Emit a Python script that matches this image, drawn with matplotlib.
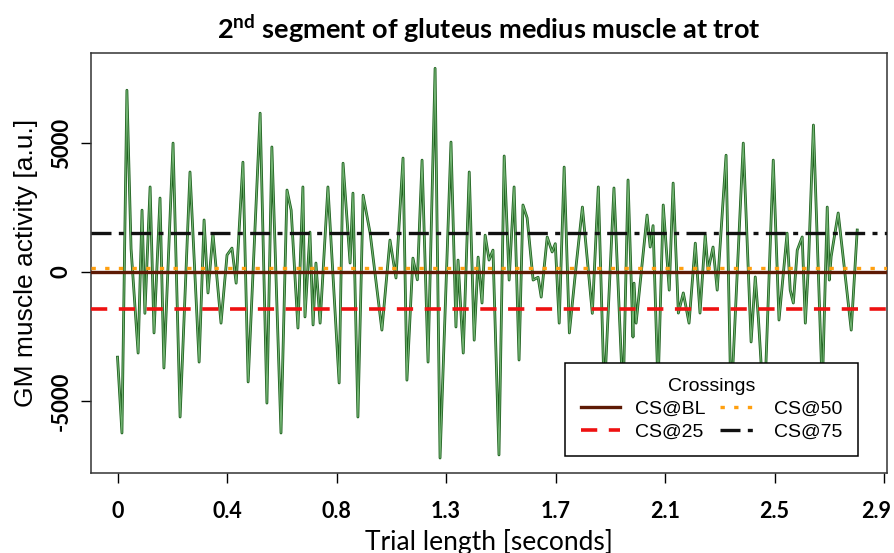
import numpy as np
import matplotlib
matplotlib.use("Agg")
import matplotlib.pyplot as plt
import matplotlib.transforms as mtransforms
from matplotlib.lines import Line2D

plt.rcParams["mathtext.fontset"] = "custom"
plt.rcParams["mathtext.rm"] = "Lato"
plt.rcParams["mathtext.bf"] = "Lato:bold"

# ---- EMG trace (seconds, a.u.) ----
t = [0.00, 0.017, 0.036, 0.052, 0.079, 0.094, 0.105, 0.125, 0.140, 0.163,
     0.178, 0.213, 0.240, 0.278, 0.313, 0.332, 0.347, 0.366, 0.397, 0.420,
     0.439, 0.455, 0.481, 0.501, 0.547, 0.573, 0.592, 0.627, 0.650, 0.666,
     0.692, 0.711, 0.719, 0.738, 0.750, 0.761, 0.777, 0.807, 0.850, 0.865,
     0.892, 0.903, 0.922, 0.942, 0.969, 1.014, 1.045, 1.068, 1.095, 1.110,
     1.133, 1.150, 1.168, 1.191, 1.218, 1.237, 1.279, 1.298, 1.306, 1.326,
     1.349, 1.368, 1.383, 1.398, 1.410, 1.425, 1.440, 1.463, 1.483, 1.502,
     1.521, 1.540, 1.555, 1.571, 1.594, 1.613, 1.625, 1.648, 1.667, 1.679,
     1.694, 1.713, 1.733, 1.760, 1.783, 1.821, 1.844, 1.867, 1.904, 1.939,
     1.958, 1.977, 1.981, 1.989, 2.031, 2.043, 2.054, 2.073, 2.093, 2.116,
     2.131, 2.151, 2.170, 2.192, 2.216, 2.234, 2.254, 2.265, 2.284, 2.300,
     2.334, 2.353, 2.400, 2.430, 2.446, 2.458, 2.480, 2.515, 2.537, 2.568,
     2.580, 2.592, 2.607, 2.626, 2.638, 2.650, 2.669, 2.703, 2.722, 2.730,
     2.737, 2.764, 2.783, 2.814, 2.837]
gm = [-3300, -6240, 7050, 900, -3140, 2400, -1600, 3300, -2360, 2870,
      -3720, 5000, -5620, 3880, -3490, 2020, -810, 1500, -1980, 660,
      930, -430, 4260, -4260, 6160, -5080, 4850, -6240, 3180, 2400,
      -2170, 3300, -1740, 1550, -2050, 350, -1980, 3300, -4300, 4220,
      350, 3060, -5620, 2980, 1500, -2250, 1240, -230, 4420, -4190,
      540, -300, 4340, -3490, 7900, -7210, 5040, -2130, 465, -3140,
      3880, -2640, 580, -1200, 1430, 465, 850, -7090, 4500, -310,
      3300, -3410, 2600, 2100, -310, -200, -970, 1360, 780, 1100,
      -1980, 4070, -2360, 350, 2520, -1600, 3300, -4800, 3260, -5000,
      3570, -2520, -430, -1980, 2210, 970, 1800, -4500, 2600, -700,
      3450, -1590, -810, -1980, 1120, -1590, 1430, 50, 970, -700,
      4530, -5200, 5000, -2710, -190, -1800, -5500, 4340, -1860, 1510,
      -700, -1200, 850, 1360, -1980, 300, 5700, -4600, 2520, -310,
      600, 2290, 580, -2250, 1630]

# ---- crossing thresholds ----
cs_labels = ["CS@BL", "CS@25", "CS@50", "CS@75"]
cs_levels = [0, -1430, 170, 1510]

x_ticks = [0, 0.42, 0.84, 1.26, 1.68, 2.10, 2.52, 2.94]
x_ticklabels = ["0", "0.4", "0.8", "1.3", "1.7", "2.1", "2.5", "2.9"]
y_ticks = [-5000, 0, 5000]

styles = {
    "CS@BL": dict(color="#5e1a05", lw=2.4, ls="-"),
    "CS@25": dict(color="#ee1111", lw=2.6, ls=(0, (4.5, 3.2))),
    "CS@50": dict(color="#ffa010", lw=2.4, ls=(0, (1.3, 2.8))),
    "CS@75": dict(color="#111111", lw=2.4, ls=(0, (6, 2.2, 1.5, 2.2))),
}

fig = plt.figure(figsize=(8.95, 5.53), dpi=100)
ax = fig.add_axes([0.1017, 0.1447, 0.8893, 0.7593])

# trace: dark edge with lighter green core
ax.plot(t, gm, color="#1f611f", lw=2.0, zorder=2)
ax.plot(t, gm, color="#72b472", lw=0.8, zorder=2.1)

for name, lvl in zip(cs_labels, cs_levels):
    ax.axhline(lvl, zorder=3, **styles[name])

ax.set_xlim(-0.1016, 2.951)
ax.set_ylim(-7790, 8490)

ax.set_xticks(x_ticks)
ax.set_xticklabels(x_ticklabels, fontfamily="Lato", fontweight="bold", fontsize=15.5)
ax.set_yticks(y_ticks)
ax.set_yticklabels([str(v) for v in y_ticks], fontfamily="Lato", fontweight="bold",
                   fontsize=16, rotation=90, va="center")
ax.tick_params(direction="out", length=7, width=1)
ax.tick_params(axis="x", pad=13)
ax.tick_params(axis="y", pad=7)
# keep the last x label inside the figure
last = ax.get_xticklabels()[-1]
last.set_transform(last.get_transform() +
                   mtransforms.ScaledTranslation(-6 / 72, 0, fig.dpi_scale_trans))
for s in ax.spines.values():
    s.set_linewidth(1.1)
    s.set_color("#333333")

ax.set_title(r"$\mathbf{2^{nd}}$ segment of gluteus medius muscle at trot",
             fontfamily="Lato", fontweight="bold", fontsize=19.5, pad=10)
ax.set_xlabel("Trial length [seconds]", fontfamily="Lato", fontsize=19, labelpad=5)
ax.set_ylabel("GM muscle activity [a.u.]", fontfamily="Liberation Sans",
              fontsize=19, labelpad=9)

handles = [Line2D([], [], **styles[n]) for n in ["CS@BL", "CS@25", "CS@50", "CS@75"]]
leg = ax.legend(handles, ["CS@BL", "CS@25", "CS@50", "CS@75"], title="Crossings",
                ncol=2, loc="lower right", bbox_to_anchor=(0.9636, 0.0405),
                borderaxespad=0,
                prop={"family": "Liberation Sans", "size": 14},
                title_fontproperties={"family": "Liberation Sans", "size": 14},
                fancybox=False, framealpha=1, edgecolor="black",
                handlelength=2.0, handletextpad=0.8, columnspacing=0.7,
                labelspacing=0.25, borderpad=0.8)
leg.get_frame().set_linewidth(1.1)
leg.set_zorder(5)

plt.savefig("out.png", dpi=100)
